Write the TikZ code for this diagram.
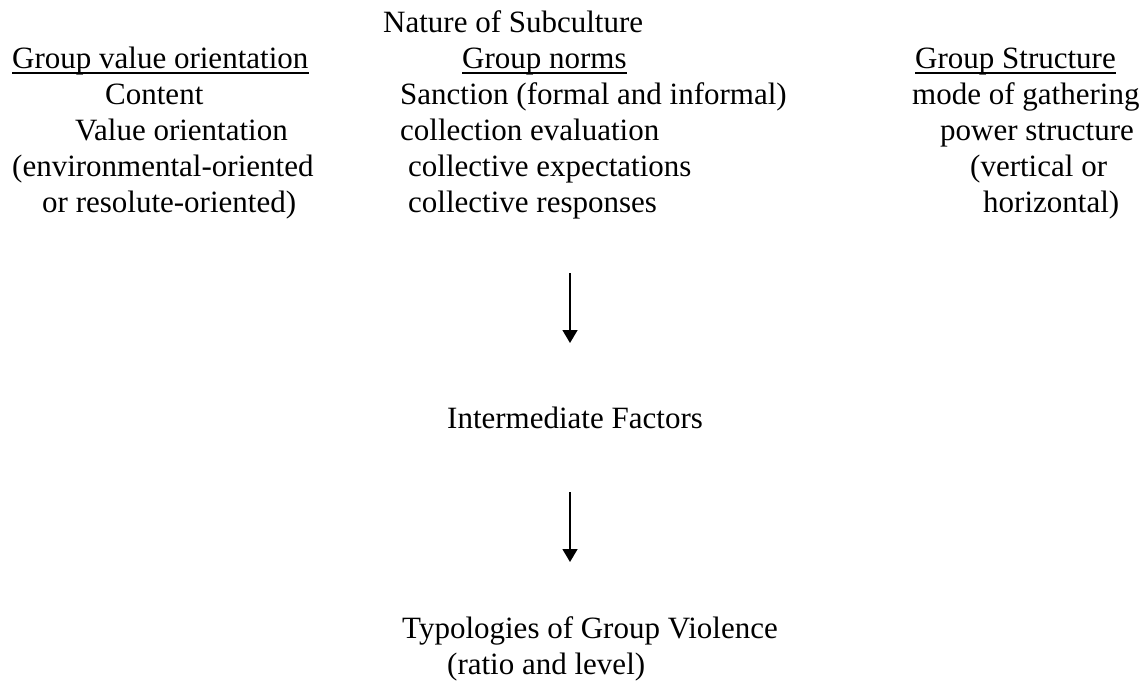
\documentclass[tikz,border=0pt]{standalone}
\usepackage{fontspec}
\setmainfont{Liberation Serif}
\usetikzlibrary{arrows.meta,positioning}

\begin{document}
\begin{tikzpicture}[x=1pt, y=-1pt,
  txt/.style={anchor=base west, inner sep=0pt, font=\fontsize{31}{36}\selectfont},
  ul/.style={line width=1.4pt},
  arr/.style={-{Triangle[width=15pt,length=13pt]}, line width=1.5pt}
]
\useasboundingbox (0,0) rectangle (1148,687);

% ===== Title =====
\node[txt] (nature) at (383,33) {Nature of Subculture};

% ===== Column headers =====
\node[txt] (gvo)    at (12,69)  {Group value orientation};
\node[txt] (norms)  at (462,69) {Group norms};
\node[txt] (struct) at (915,69) {Group Structure};
\foreach \n in {gvo,norms,struct}
  \draw[ul] ([yshift=-4pt]\n.base west) -- ([yshift=-4pt]\n.base east);

% ===== Group value orientation =====
\node[txt] (content) at (105,105) {Content};
\node[txt] (valor)   at (75,141)  {Value orientation};
\node[txt] (envor)   at (12,177)  {(environmental-oriented};
\node[txt] (resol)   at (42,213)  {or resolute-oriented)};

% ===== Group norms =====
\node[txt] (sanction) at (400,105) {Sanction (formal and informal)};
\node[txt] (colleval) at (400,141) {collection evaluation};
\node[txt] (collexp)  at (408,177) {collective expectations};
\node[txt] (collresp) at (408,213) {collective responses};

% ===== Group Structure =====
\node[txt] (gather) at (912,105) {mode of gathering};
\node[txt] (power)  at (940,141) {power structure};
\node[txt] (vert)   at (970,177) {(vertical or};
\node[txt] (horiz)  at (983,213) {horizontal)};

% ===== Lower part =====
\node[txt] (inter) at (447,428) {Intermediate Factors};
\node[txt] (typo)  at (402,638) {Typologies of Group Violence};
\node[txt] (ratio) at (447,674) {(ratio and level)};

% ===== Arrows =====
\coordinate (a1top) at (570,273);
\coordinate (a1tip) at (570,343);
\coordinate (a2top) at (570,492);
\coordinate (a2tip) at (570,562);
\draw[arr] (a1top) -- (a1tip);
\draw[arr] (a2top) -- (a2tip);

\end{tikzpicture}
\end{document}
